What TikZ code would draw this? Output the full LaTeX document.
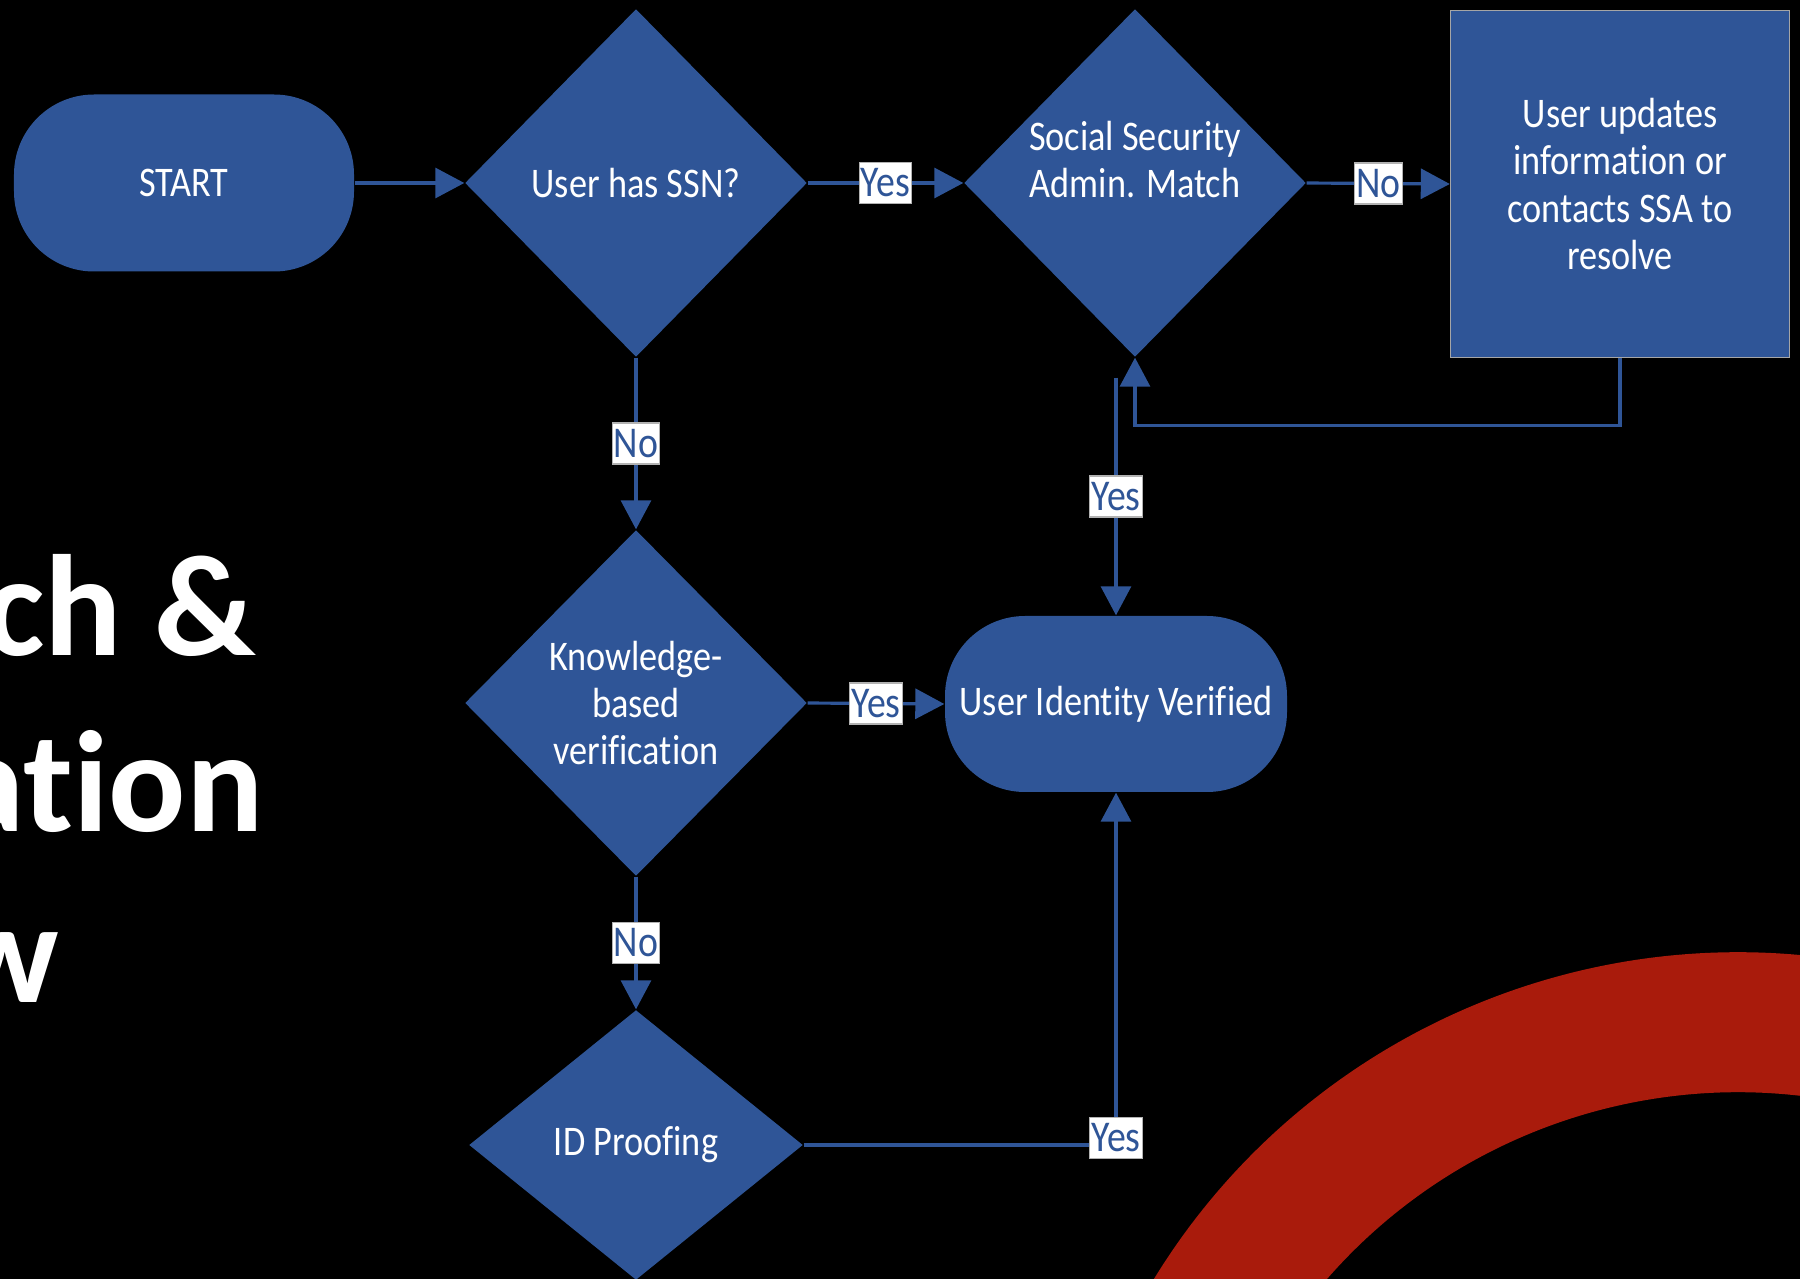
\documentclass[tikz,border=0pt]{standalone}
\usepackage{fontspec}
\setmainfont[Ligatures=NoCommon]{Carlito}
\newfontfamily\nodefont[FakeStretch=0.86,Ligatures=NoCommon]{Carlito}
\usetikzlibrary{shapes.geometric,arrows.meta}
\definecolor{flowblue}{RGB}{47,85,151}
\definecolor{arcred}{RGB}{169,27,12}
\tikzset{
  shapebase/.style={fill=flowblue, text=white, font=\nodefont\fontsize{12}{13.4}\selectfont, align=center, inner sep=0pt},
  terminal/.style={shapebase, rounded corners=0.8cm, minimum width=3.4cm, minimum height=1.77cm},
  decision/.style={shapebase, diamond, minimum width=3.42cm, minimum height=3.48cm},
  procbox/.style={shapebase, draw=gray!70, line width=0.4pt, minimum width=3.39cm, minimum height=3.47cm},
  lbl/.style={fill=white, draw=gray!60, line width=0.3pt, text=flowblue, font=\nodefont\fontsize{12.5}{13}\selectfont, inner xsep=0.5pt, inner ysep=1pt, minimum height=0.41cm},
  flow/.style={draw=flowblue, line width=0.9pt, -{Triangle[length=0.29cm,width=0.30cm]}},
  slidetitle/.style={anchor=base east, text=white, font=\bfseries\fontsize{41}{49}\selectfont, inner sep=0pt},
}
\begin{document}
\begin{tikzpicture}
\useasboundingbox (0,0) rectangle (18,-12.79);
\fill[black] (0,0) rectangle (18,-12.79);

\begin{scope}
\clip (0,0) rectangle (18,-12.79);
% Red band in the lower right corner
\draw[arcred, line width=1.4cm] (17.378,-16.373) ++(155:6.15) arc (155:70:6.15);
% Slide title, cut by the left edge
\node[slidetitle] (title1) at (2.57,-6.56) {ch \&};
\node[slidetitle] (title2) at (2.64,-8.31) {ation};
\node[slidetitle] (title3) at (0.60,-10.03) {w};
\end{scope}

% Top row: start, SSN check, SSA match, update box
\node[terminal] (start) at (1.84,-1.83) {START};
\node[decision] (hasssn) at (6.36,-1.83) {User has SSN?};
\node[decision] (ssa) at (11.35,-1.83) {Social Security\\Admin. Match\\~};
\node[procbox] (update) at (16.20,-1.84) {User updates\\information or\\contacts SSA to\\resolve};

% Fallback checks and the result
\node[decision, minimum height=3.46cm] (kbv) at (6.36,-7.03) {Knowledge-\\based\\verification};
\node[terminal, minimum width=3.42cm, minimum height=1.76cm] (verified) at (11.16,-7.04) {User Identity Verified};
\node[decision, minimum width=3.34cm, minimum height=2.70cm] (idp) at (6.36,-11.45) {ID Proofing};

% Connectors
\draw[flow] (start.east) -- (hasssn.west);
\draw[flow] (hasssn.east) -- node[lbl] {Yes} (ssa.west);
\draw[flow] (ssa.east) -- node[lbl] {No} (update.west);
\draw[flow] (hasssn.south) -- node[lbl] {No} (kbv.north);
\draw[flow] (kbv.east) -- node[lbl] {Yes} (verified.west);
\draw[flow] (kbv.south) -- node[lbl] {No} (idp.north);
\draw[flow] (idp.east) -| node[lbl, pos=0.5, yshift=0.07cm] {Yes} (verified.south);
\draw[flow] (update.south) -- ++(0,-0.67) -| (ssa.south);
\coordinate (ssayes) at ([yshift=-0.2cm]ssa.south -| verified.north);
\draw[flow] (ssayes) -- node[lbl] {Yes} (verified.north);

\end{tikzpicture}
\end{document}
